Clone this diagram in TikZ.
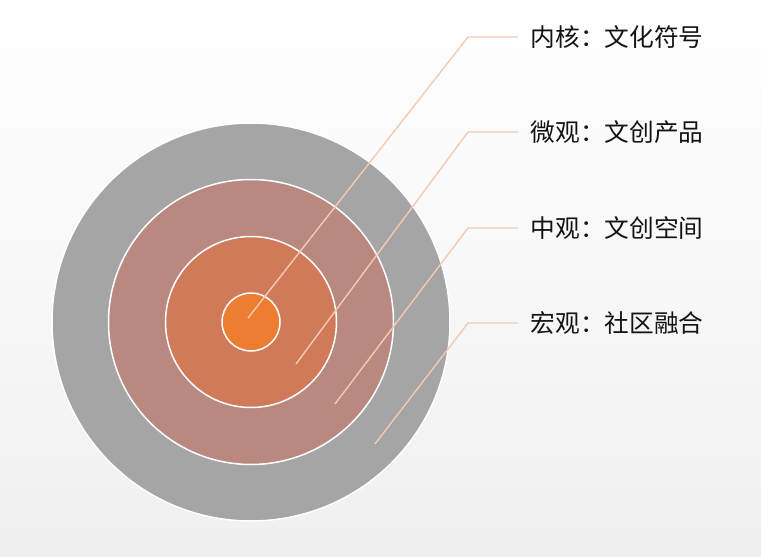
\documentclass[tikz,border=0pt]{standalone}
\usepackage{fontspec}
\newfontfamily\cjk{Noto Sans CJK SC}
\usepackage{tikz}

\definecolor{grayring}{HTML}{A5A5A5}
\definecolor{rosering}{HTML}{B98980}
\definecolor{clayring}{HTML}{D17A59}
\definecolor{corefill}{HTML}{ED7D31}
\definecolor{leadcol}{HTML}{F5CAB3}
\definecolor{txtcol}{HTML}{141414}

\begin{document}
\begin{tikzpicture}[x=1pt, y=-1pt, ring/.style = {draw=white, line width=1.5pt, circle, inner sep=0pt}, lead/.style = {draw=leadcol, line width=1.4pt}, lbl/.style = {anchor=west, inner xsep=12.5pt, inner ysep=0pt, text=txtcol, font=\cjk\fontsize{24.7}{28}\selectfont}]
\shade[top color=white, bottom color=gray!12] (0,0) rectangle (761,557);
\useasboundingbox (0,0) rectangle (761,557);
\node[ring, fill=grayring, minimum size=398pt] (r4) at (251,322) {};
\node[ring, fill=rosering, minimum size=285pt] (r3) at (251,322) {};
\node[ring, fill=clayring, minimum size=171pt] (r2) at (251,322) {};
\node[ring, fill=corefill, minimum size=58pt] (r1) at (251,322) {};
\coordinate (s1) at (248,318);
\coordinate (s2) at (296,364);
\coordinate (s3) at (335,404);
\coordinate (s4) at (375,444);
\coordinate (k1) at (468,37);
\coordinate (k2) at (468,132);
\coordinate (k3) at (468,228);
\coordinate (k4) at (468,323);
\node[lbl] (t1) at (518,37) {内核：文化符号};
\node[lbl] (t2) at (518,132) {微观：文创产品};
\node[lbl] (t3) at (518,228) {中观：文创空间};
\node[lbl] (t4) at (518,323) {宏观：社区融合};
\draw[lead] (s1) -- (k1) -- (t1.west);
\draw[lead] (s2) -- (k2) -- (t2.west);
\draw[lead] (s3) -- (k3) -- (t3.west);
\draw[lead] (s4) -- (k4) -- (t4.west);
\end{tikzpicture}
\end{document}
